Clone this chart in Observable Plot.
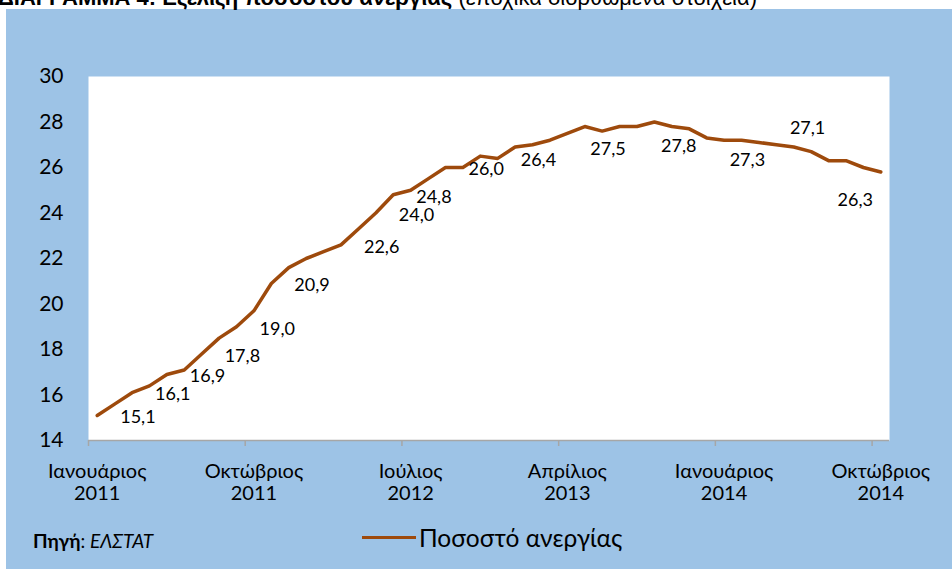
<!DOCTYPE html>
<html>
<head>
<meta charset="utf-8">
<script src="https://cdn.jsdelivr.net/npm/d3@7"></script>
<script src="https://cdn.jsdelivr.net/npm/@observablehq/plot@0.6"></script>
<style>
  body { margin: 0; background: #fff; }
  #wrap { position: relative; width: 952px; height: 572px; overflow: hidden; font-family: Lato, "Open Sans", sans-serif; color: #000; }
  #bg { position: absolute; left: 6px; top: 9px; width: 946px; height: 560px; background: #9DC3E6; }
  #title { position: absolute; left: -2px; top: -15px; font-size: 22px; white-space: nowrap; font-family: "Liberation Sans Narrow", "Liberation Sans", Arial, sans-serif; }
  #title b { font-weight: bold; }
  #chart { position: absolute; left: 0; top: 0; }
  #legend { position: absolute; left: 362px; top: 523px; display: flex; align-items: center; font-size: 24.5px; white-space: nowrap; }
  #legend .sw { display: inline-block; width: 54px; height: 3.5px; background: #9E4A0C; margin-right: 3px; }
  #source { position: absolute; left: 33px; top: 529px; font-size: 19px; white-space: nowrap; }
</style>
</head>
<body>
<div id="wrap">
  <div id="bg"></div>
  <div id="title"><b>ΔΙΑΓΡΑΜΜΑ 4: Εξέλιξη ποσοστού ανεργίας</b> (εποχικά διορθωμένα στοιχεία)</div>
  <div id="chart"></div>
  <div id="source"><b>Πηγή</b>: <i>ΕΛΣΤΑΤ</i></div>
  <div id="legend"><span class="sw"></span><span>Ποσοστό ανεργίας</span></div>
</div>
<script>
// Monthly unemployment rate, Jan 2011 – Oct 2014 (46 months)
const rate = [
  15.1, 15.6, 16.1, 16.4, 16.9, 17.1, 17.8, 18.5, 19.0, 19.7, 20.9, 21.6,
  22.0, 22.3, 22.6, 23.3, 24.0, 24.8, 25.0, 25.5, 26.0, 26.0, 26.5, 26.4,
  26.9, 27.0, 27.2, 27.5, 27.8, 27.6, 27.8, 27.8, 28.0, 27.8, 27.7, 27.3,
  27.2, 27.2, 27.1, 27.0, 26.9, 26.7, 26.3, 26.3, 26.0, 25.8
];
// Category tick labels (month index -> label)
const tickIndex = [0, 9, 18, 27, 36, 45];
const tickLabels = [
  "Ιανουάριος\n2011", "Οκτώβριος\n2011", "Ιούλιος\n2012",
  "Απρίλιος\n2013", "Ιανουάριος\n2014", "Οκτώβριος\n2014"
];
const yTicks = [14, 16, 18, 20, 22, 24, 26, 28, 30];
// Months that carry a data label
const labelIndex = [0, 2, 4, 6, 8, 10, 14, 16, 17, 20, 23, 27, 31, 35, 38, 42];

// layout: label nudges (pixels) for labels moved away from default position
const defaultNudge = [23, 2];
const nudges = { 27: [23, 16], 31: [24, 20], 35: [23, 22], 38: [31, -14], 42: [9, 40] };

const data = rate.map((v, i) => ({ i, v }));
const fmt = v => v.toFixed(1).replace(".", ",");
const LINE = "#9E4A0C";

const groups = d3.groups(labelIndex, i => String(nudges[i] || defaultNudge));
const labelMarks = groups.map(([key, idx]) => {
  const [dx, dy] = nudges[idx[0]] || defaultNudge;
  return Plot.text(idx.map(i => data[i]), {
    x: "i", y: "v", text: d => fmt(d.v),
    textAnchor: "start", dx, dy, fontSize: 18, fill: "#000"
  });
});

const chart = Plot.plot({
  width: 952,
  height: 500,
  marginLeft: 88,
  marginRight: 63,
  marginTop: 76,
  marginBottom: 60,
  style: { background: "transparent", fontFamily: 'Lato, "Open Sans", sans-serif', overflow: "visible" },
  x: { domain: [-0.5, rate.length - 0.5] },
  y: { domain: [14, 30] },
  marks: [
    Plot.frame({ fill: "white", stroke: "none" }),
    Plot.ruleY([14], { stroke: "#A6A6A6", strokeWidth: 1.5 }),
    Plot.axisX(tickIndex.map(i => i - 0.5), { tickSize: 6, tickFormat: () => "", label: null, stroke: "#A6A6A6", strokeWidth: 1.5 }),
    Plot.axisY(yTicks, { tickSize: 0, tickPadding: 25, fontSize: 21, fill: "#000", label: null }),
    Plot.line(data, { x: "i", y: "v", stroke: LINE, strokeWidth: 3.5, strokeLinejoin: "round" }),
    ...labelMarks,
    Plot.text(tickIndex, {
      x: d => d, y: () => 14, text: (d, k) => tickLabels[k],
      lineAnchor: "top", dy: 22, lineHeight: 1.1, fontSize: 20, fill: "#000"
    })
  ]
});
document.getElementById("chart").appendChild(chart);
</script>
</body>
</html>
